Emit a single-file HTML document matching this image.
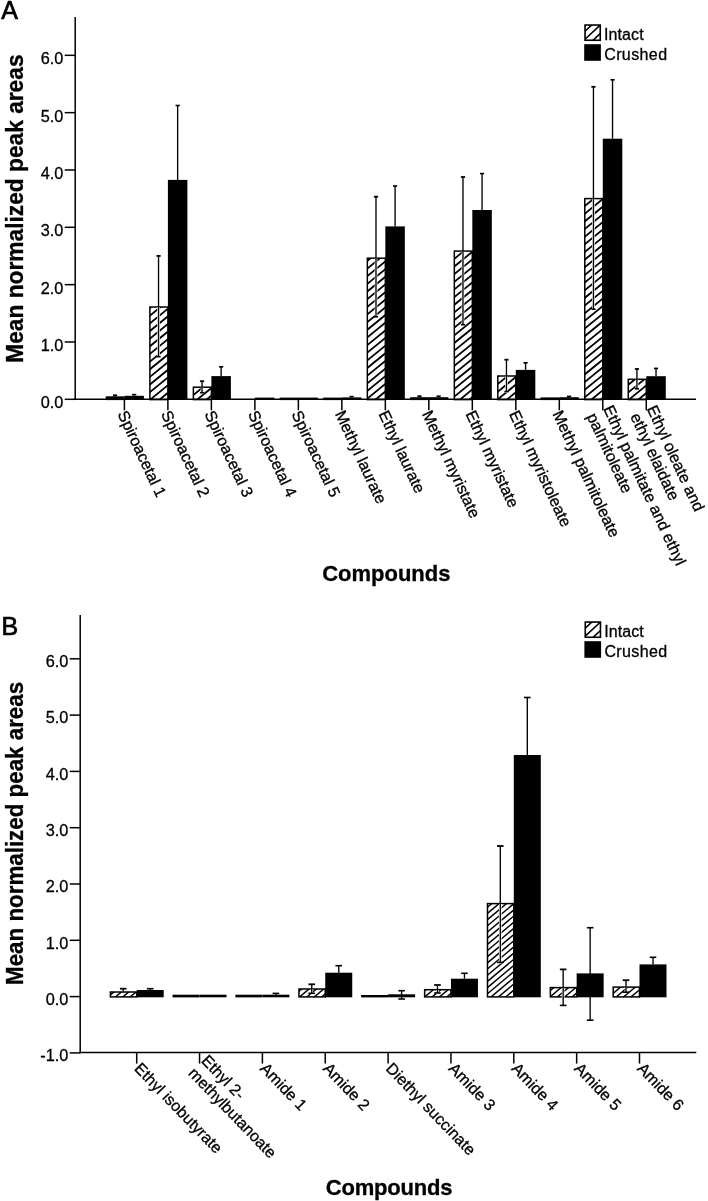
<!DOCTYPE html>
<html><head><meta charset="utf-8"><title>Figure</title>
<style>html,body{margin:0;padding:0;background:#fff;}svg{display:block;will-change:transform;opacity:0.999;}</style></head>
<body>
<svg width="708" height="1201" viewBox="0 0 708 1201">
<defs>
</defs>
<rect width="708" height="1201" fill="#fff"/>

<rect x="105.70" y="396.30" width="18.70" height="3.80" fill="#000"/>
<rect x="124.40" y="395.80" width="19.50" height="4.20" fill="#000"/>
<line x1="115.05" y1="395.30" x2="115.05" y2="396.30" stroke="#000" stroke-width="1.35"/>
<line x1="112.95" y1="395.30" x2="117.15" y2="395.30" stroke="#000" stroke-width="1.8"/>
<line x1="134.15" y1="394.60" x2="134.15" y2="395.80" stroke="#000" stroke-width="1.35"/>
<line x1="132.05" y1="394.60" x2="136.25" y2="394.60" stroke="#000" stroke-width="1.6"/>
<clipPath id="c1"><rect x="149.89" y="307.00" width="18.00" height="92.60"/></clipPath>
<rect x="149.89" y="307.00" width="18.00" height="92.60" fill="#fff"/>
<path d="M147.89 294.37L169.89 276.44M147.89 302.02L169.89 284.09M147.89 309.67L169.89 291.74M147.89 317.32L169.89 299.39M147.89 324.97L169.89 307.04M147.89 332.62L169.89 314.69M147.89 340.27L169.89 322.34M147.89 347.92L169.89 329.99M147.89 355.57L169.89 337.64M147.89 363.22L169.89 345.29M147.89 370.87L169.89 352.94M147.89 378.52L169.89 360.59M147.89 386.17L169.89 368.24M147.89 393.82L169.89 375.89M147.89 401.47L169.89 383.54M147.89 409.12L169.89 391.19M147.89 416.77L169.89 398.84M147.89 424.42L169.89 406.49" stroke="#000" stroke-width="1.8" fill="none" clip-path="url(#c1)"/>
<rect x="149.89" y="307.00" width="18.00" height="92.60" fill="none" stroke="#000" stroke-width="1.5"/>
<rect x="167.89" y="179.90" width="19.50" height="220.10" fill="#000"/>
<line x1="158.54" y1="307.30" x2="158.54" y2="357.90" stroke="#fff" stroke-width="2.7"/>
<line x1="158.54" y1="255.90" x2="158.54" y2="356.70" stroke="#000" stroke-width="1.35"/>
<line x1="156.44" y1="255.90" x2="160.64" y2="255.90" stroke="#000" stroke-width="1.8"/>
<line x1="156.44" y1="356.70" x2="160.64" y2="356.70" stroke="#000" stroke-width="1.6"/>
<line x1="177.64" y1="105.50" x2="177.64" y2="179.90" stroke="#000" stroke-width="1.35"/>
<line x1="175.54" y1="105.50" x2="179.74" y2="105.50" stroke="#000" stroke-width="1.6"/>
<clipPath id="c2"><rect x="193.38" y="387.20" width="18.00" height="12.40"/></clipPath>
<rect x="193.38" y="387.20" width="18.00" height="12.40" fill="#fff"/>
<path d="M191.38 373.68L213.38 355.75M191.38 381.33L213.38 363.40M191.38 388.98L213.38 371.05M191.38 396.63L213.38 378.70M191.38 404.28L213.38 386.35M191.38 411.93L213.38 394.00M191.38 419.58L213.38 401.65M191.38 427.23L213.38 409.30" stroke="#000" stroke-width="1.8" fill="none" clip-path="url(#c2)"/>
<rect x="193.38" y="387.20" width="18.00" height="12.40" fill="none" stroke="#000" stroke-width="1.5"/>
<rect x="211.38" y="376.10" width="19.50" height="23.90" fill="#000"/>
<line x1="202.03" y1="387.50" x2="202.03" y2="393.90" stroke="#fff" stroke-width="2.7"/>
<line x1="202.03" y1="381.20" x2="202.03" y2="392.70" stroke="#000" stroke-width="1.35"/>
<line x1="199.93" y1="381.20" x2="204.13" y2="381.20" stroke="#000" stroke-width="1.8"/>
<line x1="199.93" y1="392.70" x2="204.13" y2="392.70" stroke="#000" stroke-width="1.6"/>
<line x1="221.13" y1="366.80" x2="221.13" y2="376.10" stroke="#000" stroke-width="1.35"/>
<line x1="219.03" y1="366.80" x2="223.23" y2="366.80" stroke="#000" stroke-width="1.6"/>
<rect x="254.87" y="397.60" width="19.50" height="2.40" fill="#000"/>
<rect x="279.66" y="397.60" width="18.70" height="2.50" fill="#000"/>
<rect x="298.36" y="397.60" width="19.50" height="2.40" fill="#000"/>
<rect x="323.15" y="397.60" width="18.70" height="2.50" fill="#000"/>
<rect x="341.85" y="397.40" width="19.50" height="2.60" fill="#000"/>
<line x1="351.60" y1="396.60" x2="351.60" y2="397.40" stroke="#000" stroke-width="1.35"/>
<line x1="349.50" y1="396.60" x2="353.70" y2="396.60" stroke="#000" stroke-width="1.6"/>
<clipPath id="c3"><rect x="367.34" y="258.20" width="18.00" height="141.40"/></clipPath>
<rect x="367.34" y="258.20" width="18.00" height="141.40" fill="#fff"/>
<path d="M365.34 247.20L387.34 229.27M365.34 254.85L387.34 236.92M365.34 262.50L387.34 244.57M365.34 270.15L387.34 252.22M365.34 277.80L387.34 259.87M365.34 285.45L387.34 267.52M365.34 293.10L387.34 275.17M365.34 300.75L387.34 282.82M365.34 308.40L387.34 290.47M365.34 316.05L387.34 298.12M365.34 323.70L387.34 305.77M365.34 331.35L387.34 313.42M365.34 339.00L387.34 321.07M365.34 346.65L387.34 328.72M365.34 354.30L387.34 336.37M365.34 361.95L387.34 344.02M365.34 369.60L387.34 351.67M365.34 377.25L387.34 359.32M365.34 384.90L387.34 366.97M365.34 392.55L387.34 374.62M365.34 400.20L387.34 382.27M365.34 407.85L387.34 389.92M365.34 415.50L387.34 397.57M365.34 423.15L387.34 405.22M365.34 430.80L387.34 412.87" stroke="#000" stroke-width="1.8" fill="none" clip-path="url(#c3)"/>
<rect x="367.34" y="258.20" width="18.00" height="141.40" fill="none" stroke="#000" stroke-width="1.5"/>
<rect x="385.34" y="226.40" width="19.50" height="173.60" fill="#000"/>
<line x1="375.99" y1="258.50" x2="375.99" y2="318.00" stroke="#fff" stroke-width="2.7"/>
<line x1="375.99" y1="196.70" x2="375.99" y2="316.80" stroke="#000" stroke-width="1.35"/>
<line x1="373.89" y1="196.70" x2="378.09" y2="196.70" stroke="#000" stroke-width="1.8"/>
<line x1="373.89" y1="316.80" x2="378.09" y2="316.80" stroke="#000" stroke-width="1.6"/>
<line x1="395.09" y1="186.00" x2="395.09" y2="226.40" stroke="#000" stroke-width="1.35"/>
<line x1="392.99" y1="186.00" x2="397.19" y2="186.00" stroke="#000" stroke-width="1.6"/>
<rect x="410.13" y="397.20" width="18.70" height="2.90" fill="#000"/>
<rect x="428.83" y="397.20" width="19.50" height="2.80" fill="#000"/>
<line x1="419.48" y1="396.20" x2="419.48" y2="397.20" stroke="#000" stroke-width="1.35"/>
<line x1="417.38" y1="396.20" x2="421.58" y2="396.20" stroke="#000" stroke-width="1.8"/>
<line x1="438.58" y1="396.20" x2="438.58" y2="397.20" stroke="#000" stroke-width="1.35"/>
<line x1="436.48" y1="396.20" x2="440.68" y2="396.20" stroke="#000" stroke-width="1.6"/>
<clipPath id="c4"><rect x="454.32" y="251.10" width="18.00" height="148.50"/></clipPath>
<rect x="454.32" y="251.10" width="18.00" height="148.50" fill="#fff"/>
<path d="M452.32 237.51L474.32 219.58M452.32 245.16L474.32 227.23M452.32 252.81L474.32 234.88M452.32 260.46L474.32 242.53M452.32 268.11L474.32 250.18M452.32 275.76L474.32 257.83M452.32 283.41L474.32 265.48M452.32 291.06L474.32 273.13M452.32 298.71L474.32 280.78M452.32 306.36L474.32 288.43M452.32 314.01L474.32 296.08M452.32 321.66L474.32 303.73M452.32 329.31L474.32 311.38M452.32 336.96L474.32 319.03M452.32 344.61L474.32 326.68M452.32 352.26L474.32 334.33M452.32 359.91L474.32 341.98M452.32 367.56L474.32 349.63M452.32 375.21L474.32 357.28M452.32 382.86L474.32 364.93M452.32 390.51L474.32 372.58M452.32 398.16L474.32 380.23M452.32 405.81L474.32 387.88M452.32 413.46L474.32 395.53M452.32 421.11L474.32 403.18M452.32 428.76L474.32 410.83" stroke="#000" stroke-width="1.8" fill="none" clip-path="url(#c4)"/>
<rect x="454.32" y="251.10" width="18.00" height="148.50" fill="none" stroke="#000" stroke-width="1.5"/>
<rect x="472.32" y="210.00" width="19.50" height="190.00" fill="#000"/>
<line x1="462.97" y1="251.40" x2="462.97" y2="325.90" stroke="#fff" stroke-width="2.7"/>
<line x1="462.97" y1="177.00" x2="462.97" y2="324.70" stroke="#000" stroke-width="1.35"/>
<line x1="460.87" y1="177.00" x2="465.07" y2="177.00" stroke="#000" stroke-width="1.8"/>
<line x1="460.87" y1="324.70" x2="465.07" y2="324.70" stroke="#000" stroke-width="1.6"/>
<line x1="482.07" y1="173.60" x2="482.07" y2="210.00" stroke="#000" stroke-width="1.35"/>
<line x1="479.97" y1="173.60" x2="484.17" y2="173.60" stroke="#000" stroke-width="1.6"/>
<clipPath id="c5"><rect x="497.81" y="376.00" width="18.00" height="23.60"/></clipPath>
<rect x="497.81" y="376.00" width="18.00" height="23.60" fill="#fff"/>
<path d="M495.81 362.72L517.81 344.79M495.81 370.37L517.81 352.44M495.81 378.02L517.81 360.09M495.81 385.67L517.81 367.74M495.81 393.32L517.81 375.39M495.81 400.97L517.81 383.04M495.81 408.62L517.81 390.69M495.81 416.27L517.81 398.34M495.81 423.92L517.81 405.99" stroke="#000" stroke-width="1.8" fill="none" clip-path="url(#c5)"/>
<rect x="497.81" y="376.00" width="18.00" height="23.60" fill="none" stroke="#000" stroke-width="1.5"/>
<rect x="515.81" y="369.90" width="19.50" height="30.10" fill="#000"/>
<line x1="506.46" y1="376.30" x2="506.46" y2="392.80" stroke="#fff" stroke-width="2.7"/>
<line x1="506.46" y1="359.70" x2="506.46" y2="391.60" stroke="#000" stroke-width="1.35"/>
<line x1="504.36" y1="359.70" x2="508.56" y2="359.70" stroke="#000" stroke-width="1.8"/>
<line x1="504.36" y1="391.60" x2="508.56" y2="391.60" stroke="#000" stroke-width="1.6"/>
<line x1="525.56" y1="362.80" x2="525.56" y2="369.90" stroke="#000" stroke-width="1.35"/>
<line x1="523.46" y1="362.80" x2="527.66" y2="362.80" stroke="#000" stroke-width="1.6"/>
<rect x="540.60" y="397.40" width="18.70" height="2.70" fill="#000"/>
<rect x="559.30" y="397.20" width="19.50" height="2.80" fill="#000"/>
<line x1="569.05" y1="396.40" x2="569.05" y2="397.20" stroke="#000" stroke-width="1.35"/>
<line x1="566.95" y1="396.40" x2="571.15" y2="396.40" stroke="#000" stroke-width="1.6"/>
<clipPath id="c6"><rect x="584.79" y="198.60" width="18.00" height="201.00"/></clipPath>
<rect x="584.79" y="198.60" width="18.00" height="201.00" fill="#fff"/>
<path d="M582.79 192.38L604.79 174.45M582.79 200.03L604.79 182.10M582.79 207.68L604.79 189.75M582.79 215.33L604.79 197.40M582.79 222.98L604.79 205.05M582.79 230.63L604.79 212.70M582.79 238.28L604.79 220.35M582.79 245.93L604.79 228.00M582.79 253.58L604.79 235.65M582.79 261.23L604.79 243.30M582.79 268.88L604.79 250.95M582.79 276.53L604.79 258.60M582.79 284.18L604.79 266.25M582.79 291.83L604.79 273.90M582.79 299.48L604.79 281.55M582.79 307.13L604.79 289.20M582.79 314.78L604.79 296.85M582.79 322.43L604.79 304.50M582.79 330.08L604.79 312.15M582.79 337.73L604.79 319.80M582.79 345.38L604.79 327.45M582.79 353.03L604.79 335.10M582.79 360.68L604.79 342.75M582.79 368.33L604.79 350.40M582.79 375.98L604.79 358.05M582.79 383.63L604.79 365.70M582.79 391.28L604.79 373.35M582.79 398.93L604.79 381.00M582.79 406.58L604.79 388.65M582.79 414.23L604.79 396.30M582.79 421.88L604.79 403.95M582.79 429.53L604.79 411.60" stroke="#000" stroke-width="1.8" fill="none" clip-path="url(#c6)"/>
<rect x="584.79" y="198.60" width="18.00" height="201.00" fill="none" stroke="#000" stroke-width="1.5"/>
<rect x="602.79" y="138.70" width="19.50" height="261.30" fill="#000"/>
<line x1="593.44" y1="198.90" x2="593.44" y2="310.40" stroke="#fff" stroke-width="2.7"/>
<line x1="593.44" y1="86.80" x2="593.44" y2="309.20" stroke="#000" stroke-width="1.35"/>
<line x1="591.34" y1="86.80" x2="595.54" y2="86.80" stroke="#000" stroke-width="1.8"/>
<line x1="591.34" y1="309.20" x2="595.54" y2="309.20" stroke="#000" stroke-width="1.6"/>
<line x1="612.54" y1="79.80" x2="612.54" y2="138.70" stroke="#000" stroke-width="1.35"/>
<line x1="610.44" y1="79.80" x2="614.64" y2="79.80" stroke="#000" stroke-width="1.6"/>
<clipPath id="c7"><rect x="628.28" y="379.30" width="18.00" height="20.30"/></clipPath>
<rect x="628.28" y="379.30" width="18.00" height="20.30" fill="#fff"/>
<path d="M626.28 371.13L648.28 353.20M626.28 378.78L648.28 360.85M626.28 386.43L648.28 368.50M626.28 394.08L648.28 376.15M626.28 401.73L648.28 383.80M626.28 409.38L648.28 391.45M626.28 417.03L648.28 399.10M626.28 424.68L648.28 406.75" stroke="#000" stroke-width="1.8" fill="none" clip-path="url(#c7)"/>
<rect x="628.28" y="379.30" width="18.00" height="20.30" fill="none" stroke="#000" stroke-width="1.5"/>
<rect x="646.28" y="376.20" width="19.50" height="23.80" fill="#000"/>
<line x1="636.93" y1="379.60" x2="636.93" y2="390.00" stroke="#fff" stroke-width="2.7"/>
<line x1="636.93" y1="369.00" x2="636.93" y2="388.80" stroke="#000" stroke-width="1.35"/>
<line x1="634.83" y1="369.00" x2="639.03" y2="369.00" stroke="#000" stroke-width="1.8"/>
<line x1="634.83" y1="388.80" x2="639.03" y2="388.80" stroke="#000" stroke-width="1.6"/>
<line x1="656.03" y1="368.40" x2="656.03" y2="376.20" stroke="#000" stroke-width="1.35"/>
<line x1="653.93" y1="368.40" x2="658.13" y2="368.40" stroke="#000" stroke-width="1.6"/>
<line x1="75.20" y1="17.00" x2="75.20" y2="400.00" stroke="#000" stroke-width="1.5"/>
<line x1="74.50" y1="399.30" x2="696.00" y2="399.30" stroke="#000" stroke-width="1.5"/>
<line x1="64.70" y1="399.30" x2="75.20" y2="399.30" stroke="#000" stroke-width="1.5"/>
<text x="63.40" y="408.20" font-size="16.3" font-family="Liberation Sans, sans-serif" font-weight="normal" text-anchor="end" stroke="#000" stroke-width="0.3" >0.0</text>
<line x1="64.70" y1="341.97" x2="75.20" y2="341.97" stroke="#000" stroke-width="1.5"/>
<text x="63.40" y="350.87" font-size="16.3" font-family="Liberation Sans, sans-serif" font-weight="normal" text-anchor="end" stroke="#000" stroke-width="0.3" >1.0</text>
<line x1="64.70" y1="284.64" x2="75.20" y2="284.64" stroke="#000" stroke-width="1.5"/>
<text x="63.40" y="293.54" font-size="16.3" font-family="Liberation Sans, sans-serif" font-weight="normal" text-anchor="end" stroke="#000" stroke-width="0.3" >2.0</text>
<line x1="64.70" y1="227.31" x2="75.20" y2="227.31" stroke="#000" stroke-width="1.5"/>
<text x="63.40" y="236.21" font-size="16.3" font-family="Liberation Sans, sans-serif" font-weight="normal" text-anchor="end" stroke="#000" stroke-width="0.3" >3.0</text>
<line x1="64.70" y1="169.98" x2="75.20" y2="169.98" stroke="#000" stroke-width="1.5"/>
<text x="63.40" y="178.88" font-size="16.3" font-family="Liberation Sans, sans-serif" font-weight="normal" text-anchor="end" stroke="#000" stroke-width="0.3" >4.0</text>
<line x1="64.70" y1="112.65" x2="75.20" y2="112.65" stroke="#000" stroke-width="1.5"/>
<text x="63.40" y="121.55" font-size="16.3" font-family="Liberation Sans, sans-serif" font-weight="normal" text-anchor="end" stroke="#000" stroke-width="0.3" >5.0</text>
<line x1="64.70" y1="55.32" x2="75.20" y2="55.32" stroke="#000" stroke-width="1.5"/>
<text x="63.40" y="64.22" font-size="16.3" font-family="Liberation Sans, sans-serif" font-weight="normal" text-anchor="end" stroke="#000" stroke-width="0.3" >6.0</text>
<line x1="124.40" y1="399.30" x2="124.40" y2="410.30" stroke="#000" stroke-width="1.5"/>
<text transform="translate(122.40 411.30) rotate(65)" x="0" y="5.7" font-size="16" font-family="Liberation Sans, sans-serif" stroke="#000" stroke-width="0.3">Spiroacetal 1</text>
<line x1="167.89" y1="399.30" x2="167.89" y2="410.30" stroke="#000" stroke-width="1.5"/>
<text transform="translate(165.89 411.30) rotate(65)" x="0" y="5.7" font-size="16" font-family="Liberation Sans, sans-serif" stroke="#000" stroke-width="0.3">Spiroacetal 2</text>
<line x1="211.38" y1="399.30" x2="211.38" y2="410.30" stroke="#000" stroke-width="1.5"/>
<text transform="translate(209.38 411.30) rotate(65)" x="0" y="5.7" font-size="16" font-family="Liberation Sans, sans-serif" stroke="#000" stroke-width="0.3">Spiroacetal 3</text>
<line x1="254.87" y1="399.30" x2="254.87" y2="410.30" stroke="#000" stroke-width="1.5"/>
<text transform="translate(252.87 411.30) rotate(65)" x="0" y="5.7" font-size="16" font-family="Liberation Sans, sans-serif" stroke="#000" stroke-width="0.3">Spiroacetal 4</text>
<line x1="298.36" y1="399.30" x2="298.36" y2="410.30" stroke="#000" stroke-width="1.5"/>
<text transform="translate(296.36 411.30) rotate(65)" x="0" y="5.7" font-size="16" font-family="Liberation Sans, sans-serif" stroke="#000" stroke-width="0.3">Spiroacetal 5</text>
<line x1="341.85" y1="399.30" x2="341.85" y2="410.30" stroke="#000" stroke-width="1.5"/>
<text transform="translate(339.85 411.30) rotate(65)" x="0" y="5.7" font-size="16" font-family="Liberation Sans, sans-serif" stroke="#000" stroke-width="0.3">Methyl laurate</text>
<line x1="385.34" y1="399.30" x2="385.34" y2="410.30" stroke="#000" stroke-width="1.5"/>
<text transform="translate(383.34 411.30) rotate(65)" x="0" y="5.7" font-size="16" font-family="Liberation Sans, sans-serif" stroke="#000" stroke-width="0.3">Ethyl laurate</text>
<line x1="428.83" y1="399.30" x2="428.83" y2="410.30" stroke="#000" stroke-width="1.5"/>
<text transform="translate(426.83 411.30) rotate(65)" x="0" y="5.7" font-size="16" font-family="Liberation Sans, sans-serif" stroke="#000" stroke-width="0.3">Methyl myristate</text>
<line x1="472.32" y1="399.30" x2="472.32" y2="410.30" stroke="#000" stroke-width="1.5"/>
<text transform="translate(470.32 411.30) rotate(65)" x="0" y="5.7" font-size="16" font-family="Liberation Sans, sans-serif" stroke="#000" stroke-width="0.3">Ethyl myristate</text>
<line x1="515.81" y1="399.30" x2="515.81" y2="410.30" stroke="#000" stroke-width="1.5"/>
<text transform="translate(513.81 411.30) rotate(65)" x="0" y="5.7" font-size="16" font-family="Liberation Sans, sans-serif" stroke="#000" stroke-width="0.3">Ethyl myristoleate</text>
<line x1="559.30" y1="399.30" x2="559.30" y2="410.30" stroke="#000" stroke-width="1.5"/>
<text transform="translate(557.30 411.30) rotate(65)" x="0" y="5.7" font-size="16" font-family="Liberation Sans, sans-serif" stroke="#000" stroke-width="0.3">Methyl palmitoleate</text>
<line x1="602.79" y1="399.30" x2="602.79" y2="410.30" stroke="#000" stroke-width="1.5"/>
<text transform="translate(608.09 406.20) rotate(65)" x="0" y="5.7" font-size="16" font-family="Liberation Sans, sans-serif" stroke="#000" stroke-width="0.3">Ethyl palmitate and ethyl</text>
<text transform="translate(591.78 413.81) rotate(65)" x="0" y="5.7" font-size="16" font-family="Liberation Sans, sans-serif" stroke="#000" stroke-width="0.3">palmitoleate</text>
<line x1="646.28" y1="399.30" x2="646.28" y2="410.30" stroke="#000" stroke-width="1.5"/>
<text transform="translate(651.58 406.20) rotate(65)" x="0" y="5.7" font-size="16" font-family="Liberation Sans, sans-serif" stroke="#000" stroke-width="0.3">Ethyl oleate and</text>
<text transform="translate(635.27 413.81) rotate(65)" x="0" y="5.7" font-size="16" font-family="Liberation Sans, sans-serif" stroke="#000" stroke-width="0.3">ethyl elaidate</text>
<clipPath id="c8"><rect x="585.00" y="25.00" width="15.2" height="15.2"/></clipPath>
<rect x="585.00" y="25.00" width="15.20" height="15.20" fill="#fff"/>
<path d="M583.30 32.83L602.30 15.11M583.30 40.83L602.30 23.11M583.30 49.33L602.30 31.62" stroke="#000" stroke-width="1.6" fill="none" clip-path="url(#c8)"/>
<rect x="585.05" y="25.05" width="15.20" height="15.20" fill="none" stroke="#000" stroke-width="1.6"/>
<rect x="584.20" y="44.20" width="16.70" height="16.60" fill="#000"/>
<text x="604.00" y="39.70" font-size="16" font-family="Liberation Sans, sans-serif" font-weight="normal" text-anchor="start" stroke="#000" stroke-width="0.3" letter-spacing="0.1">Intact</text>
<text x="604.20" y="59.90" font-size="16" font-family="Liberation Sans, sans-serif" font-weight="normal" text-anchor="start" stroke="#000" stroke-width="0.3" letter-spacing="0.4">Crushed</text>
<text x="386.30" y="580.50" font-size="22" font-family="Liberation Sans, sans-serif" font-weight="bold" text-anchor="middle" stroke="#000" stroke-width="0.3" letter-spacing="0">Compounds</text>
<text transform="translate(23.00 208.60) rotate(-90) scale(0.989 1)" x="0" y="0" font-size="23" font-family="Liberation Sans, sans-serif" font-weight="bold" text-anchor="middle" stroke="#000" stroke-width="0.3">Mean normalized peak areas</text>
<text x="1.30" y="18.60" font-size="25" font-family="Liberation Sans, sans-serif" font-weight="normal" text-anchor="start" stroke="#000" stroke-width="0.7" >A</text>
<clipPath id="c9"><rect x="110.40" y="992.00" width="26.30" height="4.90"/></clipPath>
<rect x="110.40" y="992.00" width="26.30" height="4.90" fill="#fff"/>
<path d="M108.40 984.28L138.70 958.86M108.40 990.46L138.70 965.04M108.40 996.64L138.70 971.22M108.40 1002.82L138.70 977.40M108.40 1009.00L138.70 983.58M108.40 1015.18L138.70 989.76M108.40 1021.36L138.70 995.94M108.40 1027.54L138.70 1002.12" stroke="#000" stroke-width="1.45" fill="none" clip-path="url(#c9)"/>
<rect x="110.40" y="992.00" width="26.30" height="4.90" fill="none" stroke="#000" stroke-width="1.5"/>
<rect x="136.70" y="990.00" width="27.00" height="7.30" fill="#000"/>
<line x1="123.20" y1="988.70" x2="123.20" y2="991.30" stroke="#000" stroke-width="1.35"/>
<line x1="119.90" y1="988.70" x2="126.50" y2="988.70" stroke="#000" stroke-width="1.8"/>
<line x1="150.20" y1="988.70" x2="150.20" y2="990.00" stroke="#000" stroke-width="1.35"/>
<line x1="146.90" y1="988.70" x2="153.50" y2="988.70" stroke="#000" stroke-width="1.6"/>
<rect x="172.55" y="994.70" width="27.00" height="2.70" fill="#000"/>
<rect x="199.55" y="994.70" width="27.00" height="2.60" fill="#000"/>
<rect x="235.40" y="994.70" width="27.00" height="2.70" fill="#000"/>
<rect x="262.40" y="994.70" width="27.00" height="2.60" fill="#000"/>
<line x1="275.90" y1="993.40" x2="275.90" y2="994.70" stroke="#000" stroke-width="1.35"/>
<line x1="272.60" y1="993.40" x2="279.20" y2="993.40" stroke="#000" stroke-width="1.6"/>
<clipPath id="c10"><rect x="298.95" y="989.00" width="26.30" height="7.90"/></clipPath>
<rect x="298.95" y="989.00" width="26.30" height="7.90" fill="#fff"/>
<path d="M296.95 980.57L327.25 955.14M296.95 986.75L327.25 961.32M296.95 992.93L327.25 967.50M296.95 999.11L327.25 973.68M296.95 1005.29L327.25 979.86M296.95 1011.47L327.25 986.04M296.95 1017.65L327.25 992.22M296.95 1023.83L327.25 998.40M296.95 1030.01L327.25 1004.58" stroke="#000" stroke-width="1.45" fill="none" clip-path="url(#c10)"/>
<rect x="298.95" y="989.00" width="26.30" height="7.90" fill="none" stroke="#000" stroke-width="1.5"/>
<rect x="325.25" y="972.70" width="27.00" height="24.60" fill="#000"/>
<line x1="311.75" y1="989.30" x2="311.75" y2="994.50" stroke="#fff" stroke-width="2.7"/>
<line x1="311.75" y1="984.30" x2="311.75" y2="993.30" stroke="#000" stroke-width="1.35"/>
<line x1="308.45" y1="984.30" x2="315.05" y2="984.30" stroke="#000" stroke-width="1.8"/>
<line x1="308.45" y1="993.30" x2="315.05" y2="993.30" stroke="#000" stroke-width="1.6"/>
<line x1="338.75" y1="965.70" x2="338.75" y2="972.70" stroke="#000" stroke-width="1.35"/>
<line x1="335.45" y1="965.70" x2="342.05" y2="965.70" stroke="#000" stroke-width="1.6"/>
<rect x="361.10" y="995.00" width="27.00" height="2.40" fill="#000"/>
<rect x="388.10" y="994.30" width="27.00" height="3.00" fill="#000"/>
<line x1="401.60" y1="990.70" x2="401.60" y2="999.00" stroke="#000" stroke-width="1.35"/>
<line x1="398.30" y1="990.70" x2="404.90" y2="990.70" stroke="#000" stroke-width="1.6"/>
<line x1="398.30" y1="999.00" x2="404.90" y2="999.00" stroke="#000" stroke-width="1.6"/>
<clipPath id="c11"><rect x="424.65" y="989.70" width="26.30" height="7.20"/></clipPath>
<rect x="424.65" y="989.70" width="26.30" height="7.20" fill="#fff"/>
<path d="M422.65 980.15L452.95 954.73M422.65 986.33L452.95 960.91M422.65 992.51L452.95 967.09M422.65 998.69L452.95 973.27M422.65 1004.87L452.95 979.45M422.65 1011.05L452.95 985.63M422.65 1017.23L452.95 991.81M422.65 1023.41L452.95 997.99M422.65 1029.59L452.95 1004.17" stroke="#000" stroke-width="1.45" fill="none" clip-path="url(#c11)"/>
<rect x="424.65" y="989.70" width="26.30" height="7.20" fill="none" stroke="#000" stroke-width="1.5"/>
<rect x="450.95" y="978.70" width="27.00" height="18.60" fill="#000"/>
<line x1="437.45" y1="990.00" x2="437.45" y2="994.20" stroke="#fff" stroke-width="2.7"/>
<line x1="437.45" y1="985.00" x2="437.45" y2="993.00" stroke="#000" stroke-width="1.35"/>
<line x1="434.15" y1="985.00" x2="440.75" y2="985.00" stroke="#000" stroke-width="1.8"/>
<line x1="434.15" y1="993.00" x2="440.75" y2="993.00" stroke="#000" stroke-width="1.6"/>
<line x1="464.45" y1="973.30" x2="464.45" y2="978.70" stroke="#000" stroke-width="1.35"/>
<line x1="461.15" y1="973.30" x2="467.75" y2="973.30" stroke="#000" stroke-width="1.6"/>
<clipPath id="c12"><rect x="487.50" y="903.60" width="26.30" height="93.30"/></clipPath>
<rect x="487.50" y="903.60" width="26.30" height="93.30" fill="#fff"/>
<path d="M485.50 896.52L515.80 871.09M485.50 902.70L515.80 877.27M485.50 908.88L515.80 883.45M485.50 915.06L515.80 889.63M485.50 921.24L515.80 895.81M485.50 927.42L515.80 901.99M485.50 933.60L515.80 908.17M485.50 939.78L515.80 914.35M485.50 945.96L515.80 920.53M485.50 952.14L515.80 926.71M485.50 958.32L515.80 932.89M485.50 964.50L515.80 939.07M485.50 970.68L515.80 945.25M485.50 976.86L515.80 951.43M485.50 983.04L515.80 957.61M485.50 989.22L515.80 963.79M485.50 995.40L515.80 969.97M485.50 1001.58L515.80 976.15M485.50 1007.76L515.80 982.33M485.50 1013.94L515.80 988.51M485.50 1020.12L515.80 994.69M485.50 1026.30L515.80 1000.87M485.50 1032.48L515.80 1007.05" stroke="#000" stroke-width="1.45" fill="none" clip-path="url(#c12)"/>
<rect x="487.50" y="903.60" width="26.30" height="93.30" fill="none" stroke="#000" stroke-width="1.5"/>
<rect x="513.80" y="755.00" width="27.00" height="242.30" fill="#000"/>
<line x1="500.30" y1="903.90" x2="500.30" y2="963.60" stroke="#fff" stroke-width="2.7"/>
<line x1="500.30" y1="846.00" x2="500.30" y2="962.40" stroke="#000" stroke-width="1.35"/>
<line x1="497.00" y1="846.00" x2="503.60" y2="846.00" stroke="#000" stroke-width="1.8"/>
<line x1="497.00" y1="962.40" x2="503.60" y2="962.40" stroke="#000" stroke-width="1.6"/>
<line x1="527.30" y1="697.50" x2="527.30" y2="755.00" stroke="#000" stroke-width="1.35"/>
<line x1="524.00" y1="697.50" x2="530.60" y2="697.50" stroke="#000" stroke-width="1.6"/>
<clipPath id="c13"><rect x="550.35" y="987.60" width="26.30" height="9.30"/></clipPath>
<rect x="550.35" y="987.60" width="26.30" height="9.30" fill="#fff"/>
<path d="M548.35 979.74L578.65 954.31M548.35 985.92L578.65 960.49M548.35 992.10L578.65 966.67M548.35 998.28L578.65 972.85M548.35 1004.46L578.65 979.03M548.35 1010.64L578.65 985.21M548.35 1016.82L578.65 991.39M548.35 1023.00L578.65 997.57M548.35 1029.18L578.65 1003.75" stroke="#000" stroke-width="1.45" fill="none" clip-path="url(#c13)"/>
<rect x="550.35" y="987.60" width="26.30" height="9.30" fill="none" stroke="#000" stroke-width="1.5"/>
<rect x="576.65" y="973.40" width="27.00" height="23.90" fill="#000"/>
<line x1="563.15" y1="987.90" x2="563.15" y2="1006.60" stroke="#fff" stroke-width="2.7"/>
<line x1="563.15" y1="969.40" x2="563.15" y2="1005.40" stroke="#000" stroke-width="1.35"/>
<line x1="559.85" y1="969.40" x2="566.45" y2="969.40" stroke="#000" stroke-width="1.8"/>
<line x1="559.85" y1="1005.40" x2="566.45" y2="1005.40" stroke="#000" stroke-width="1.6"/>
<line x1="590.15" y1="927.70" x2="590.15" y2="1020.20" stroke="#000" stroke-width="1.35"/>
<line x1="586.85" y1="927.70" x2="593.45" y2="927.70" stroke="#000" stroke-width="1.6"/>
<line x1="586.85" y1="1020.20" x2="593.45" y2="1020.20" stroke="#000" stroke-width="1.6"/>
<clipPath id="c14"><rect x="613.20" y="987.10" width="26.30" height="9.80"/></clipPath>
<rect x="613.20" y="987.10" width="26.30" height="9.80" fill="#fff"/>
<path d="M611.20 976.44L641.50 951.02M611.20 982.62L641.50 957.20M611.20 988.80L641.50 963.38M611.20 994.98L641.50 969.56M611.20 1001.16L641.50 975.74M611.20 1007.34L641.50 981.92M611.20 1013.52L641.50 988.10M611.20 1019.70L641.50 994.28M611.20 1025.88L641.50 1000.46M611.20 1032.06L641.50 1006.64" stroke="#000" stroke-width="1.45" fill="none" clip-path="url(#c14)"/>
<rect x="613.20" y="987.10" width="26.30" height="9.80" fill="none" stroke="#000" stroke-width="1.5"/>
<rect x="639.50" y="964.40" width="27.00" height="32.90" fill="#000"/>
<line x1="626.00" y1="987.40" x2="626.00" y2="993.40" stroke="#fff" stroke-width="2.7"/>
<line x1="626.00" y1="980.20" x2="626.00" y2="992.20" stroke="#000" stroke-width="1.35"/>
<line x1="622.70" y1="980.20" x2="629.30" y2="980.20" stroke="#000" stroke-width="1.8"/>
<line x1="622.70" y1="992.20" x2="629.30" y2="992.20" stroke="#000" stroke-width="1.6"/>
<line x1="653.00" y1="957.30" x2="653.00" y2="964.40" stroke="#000" stroke-width="1.35"/>
<line x1="649.70" y1="957.30" x2="656.30" y2="957.30" stroke="#000" stroke-width="1.6"/>
<line x1="80.20" y1="615.00" x2="80.20" y2="1053.30" stroke="#000" stroke-width="1.5"/>
<line x1="79.50" y1="1052.60" x2="696.30" y2="1052.60" stroke="#000" stroke-width="1.5"/>
<line x1="69.70" y1="1052.90" x2="80.20" y2="1052.90" stroke="#000" stroke-width="1.5"/>
<text x="68.40" y="1061.10" font-size="16.3" font-family="Liberation Sans, sans-serif" font-weight="normal" text-anchor="end" stroke="#000" stroke-width="0.3" >-1.0</text>
<line x1="69.70" y1="996.60" x2="80.20" y2="996.60" stroke="#000" stroke-width="1.5"/>
<text x="68.40" y="1004.80" font-size="16.3" font-family="Liberation Sans, sans-serif" font-weight="normal" text-anchor="end" stroke="#000" stroke-width="0.3" >0.0</text>
<line x1="69.70" y1="940.30" x2="80.20" y2="940.30" stroke="#000" stroke-width="1.5"/>
<text x="68.40" y="948.50" font-size="16.3" font-family="Liberation Sans, sans-serif" font-weight="normal" text-anchor="end" stroke="#000" stroke-width="0.3" >1.0</text>
<line x1="69.70" y1="884.00" x2="80.20" y2="884.00" stroke="#000" stroke-width="1.5"/>
<text x="68.40" y="892.20" font-size="16.3" font-family="Liberation Sans, sans-serif" font-weight="normal" text-anchor="end" stroke="#000" stroke-width="0.3" >2.0</text>
<line x1="69.70" y1="827.70" x2="80.20" y2="827.70" stroke="#000" stroke-width="1.5"/>
<text x="68.40" y="835.90" font-size="16.3" font-family="Liberation Sans, sans-serif" font-weight="normal" text-anchor="end" stroke="#000" stroke-width="0.3" >3.0</text>
<line x1="69.70" y1="771.40" x2="80.20" y2="771.40" stroke="#000" stroke-width="1.5"/>
<text x="68.40" y="779.60" font-size="16.3" font-family="Liberation Sans, sans-serif" font-weight="normal" text-anchor="end" stroke="#000" stroke-width="0.3" >4.0</text>
<line x1="69.70" y1="715.10" x2="80.20" y2="715.10" stroke="#000" stroke-width="1.5"/>
<text x="68.40" y="723.30" font-size="16.3" font-family="Liberation Sans, sans-serif" font-weight="normal" text-anchor="end" stroke="#000" stroke-width="0.3" >5.0</text>
<line x1="69.70" y1="658.80" x2="80.20" y2="658.80" stroke="#000" stroke-width="1.5"/>
<text x="68.40" y="667.00" font-size="16.3" font-family="Liberation Sans, sans-serif" font-weight="normal" text-anchor="end" stroke="#000" stroke-width="0.3" >6.0</text>
<line x1="136.70" y1="1052.60" x2="136.70" y2="1063.60" stroke="#000" stroke-width="1.5"/>
<text transform="translate(137.70 1065.40) rotate(46)" x="0" y="5.7" font-size="16" font-family="Liberation Sans, sans-serif" stroke="#000" stroke-width="0.3">Ethyl isobutyrate</text>
<line x1="199.55" y1="1052.60" x2="199.55" y2="1063.60" stroke="#000" stroke-width="1.5"/>
<text transform="translate(204.65 1057.60) rotate(46)" x="0" y="5.7" font-size="16" font-family="Liberation Sans, sans-serif" stroke="#000" stroke-width="0.3">Ethyl 2-</text>
<text transform="translate(191.70 1070.10) rotate(46)" x="0" y="5.7" font-size="16" font-family="Liberation Sans, sans-serif" stroke="#000" stroke-width="0.3">methylbutanoate</text>
<line x1="262.40" y1="1052.60" x2="262.40" y2="1063.60" stroke="#000" stroke-width="1.5"/>
<text transform="translate(263.40 1065.40) rotate(46)" x="0" y="5.7" font-size="16" font-family="Liberation Sans, sans-serif" stroke="#000" stroke-width="0.3">Amide 1</text>
<line x1="325.25" y1="1052.60" x2="325.25" y2="1063.60" stroke="#000" stroke-width="1.5"/>
<text transform="translate(326.25 1065.40) rotate(46)" x="0" y="5.7" font-size="16" font-family="Liberation Sans, sans-serif" stroke="#000" stroke-width="0.3">Amide 2</text>
<line x1="388.10" y1="1052.60" x2="388.10" y2="1063.60" stroke="#000" stroke-width="1.5"/>
<text transform="translate(389.10 1065.40) rotate(46)" x="0" y="5.7" font-size="16" font-family="Liberation Sans, sans-serif" stroke="#000" stroke-width="0.3">Diethyl succinate</text>
<line x1="450.95" y1="1052.60" x2="450.95" y2="1063.60" stroke="#000" stroke-width="1.5"/>
<text transform="translate(451.95 1065.40) rotate(46)" x="0" y="5.7" font-size="16" font-family="Liberation Sans, sans-serif" stroke="#000" stroke-width="0.3">Amide 3</text>
<line x1="513.80" y1="1052.60" x2="513.80" y2="1063.60" stroke="#000" stroke-width="1.5"/>
<text transform="translate(514.80 1065.40) rotate(46)" x="0" y="5.7" font-size="16" font-family="Liberation Sans, sans-serif" stroke="#000" stroke-width="0.3">Amide 4</text>
<line x1="576.65" y1="1052.60" x2="576.65" y2="1063.60" stroke="#000" stroke-width="1.5"/>
<text transform="translate(577.65 1065.40) rotate(46)" x="0" y="5.7" font-size="16" font-family="Liberation Sans, sans-serif" stroke="#000" stroke-width="0.3">Amide 5</text>
<line x1="639.50" y1="1052.60" x2="639.50" y2="1063.60" stroke="#000" stroke-width="1.5"/>
<text transform="translate(640.50 1065.40) rotate(46)" x="0" y="5.7" font-size="16" font-family="Liberation Sans, sans-serif" stroke="#000" stroke-width="0.3">Amide 6</text>
<clipPath id="c15"><rect x="585.20" y="622.00" width="15.2" height="15.2"/></clipPath>
<rect x="585.20" y="622.00" width="15.20" height="15.20" fill="#fff"/>
<path d="M583.50 629.83L602.50 612.12M583.50 637.83L602.50 620.12M583.50 646.33L602.50 628.62" stroke="#000" stroke-width="1.6" fill="none" clip-path="url(#c15)"/>
<rect x="585.25" y="622.05" width="15.20" height="15.20" fill="none" stroke="#000" stroke-width="1.6"/>
<rect x="584.40" y="641.20" width="16.70" height="16.60" fill="#000"/>
<text x="604.20" y="636.70" font-size="16" font-family="Liberation Sans, sans-serif" font-weight="normal" text-anchor="start" stroke="#000" stroke-width="0.3" letter-spacing="0.1">Intact</text>
<text x="604.40" y="656.90" font-size="16" font-family="Liberation Sans, sans-serif" font-weight="normal" text-anchor="start" stroke="#000" stroke-width="0.3" letter-spacing="0.4">Crushed</text>
<text x="389.00" y="1194.50" font-size="22" font-family="Liberation Sans, sans-serif" font-weight="bold" text-anchor="middle" stroke="#000" stroke-width="0.3" letter-spacing="-0.2">Compounds</text>
<text transform="translate(23.00 833.40) rotate(-90) scale(0.972 1)" x="0" y="0" font-size="23" font-family="Liberation Sans, sans-serif" font-weight="bold" text-anchor="middle" stroke="#000" stroke-width="0.3">Mean normalized peak areas</text>
<text x="1.50" y="634.90" font-size="25" font-family="Liberation Sans, sans-serif" font-weight="normal" text-anchor="start" stroke="#000" stroke-width="0.7" >B</text>
</svg>
</body></html>
